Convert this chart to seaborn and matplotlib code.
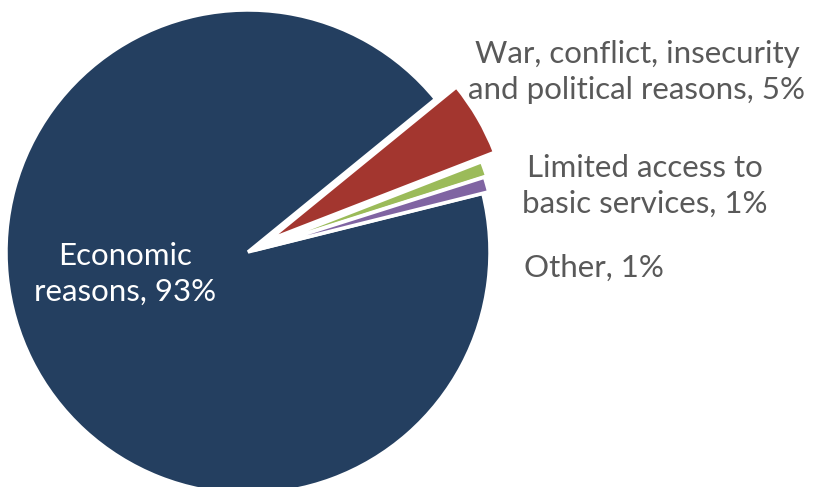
import matplotlib
matplotlib.use("Agg")
import matplotlib.pyplot as plt
import seaborn as sns

# data
categories = ["Economic reasons", "War, conflict, insecurity and political reasons",
              "Limited access to basic services", "Other"]
shares = [93, 5, 1, 1]
labels = ["Economic\nreasons, 93%", "War, conflict, insecurity\nand political reasons, 5%",
          "Limited access to\nbasic services, 1%", "Other, 1%"]
colors = ["#243F60", "#A3362F", "#9BBB59", "#8064A2"]
explode = [0.0, 0.10, 0.035, 0.025]

sns.set_theme(style="white")
plt.rcParams['font.family'] = ['Lato', 'DejaVu Sans']

W, H = 817, 487
fig = plt.figure(figsize=(W / 100, H / 100), dpi=100)
ax = fig.add_axes([0, 0, 1, 1])

# pie centre / radius in pixels
cx, cy, r = 248, 252, 242


def px(x, y):
    return (x - cx) / r, (cy - y) / r


ax.pie(shares, colors=colors, explode=explode, startangle=14, counterclock=False,
       radius=1.0, wedgeprops=dict(edgecolor="white", linewidth=2.5))

ax.set_xlim(-cx / r, (W - cx) / r)
ax.set_ylim(-(H - cy) / r, cy / r)
ax.set_aspect("auto")
ax.axis("off")

grey = "#595959"
fs = 22.5
ax.text(*px(125, 274), labels[0], color="white", fontsize=fs, ha="center", va="center",
        linespacing=1.35)
ax.text(*px(637, 72), labels[1], color=grey, fontsize=fs, ha="center", va="center",
        linespacing=1.35)
ax.text(*px(645, 186), labels[2], color=grey, fontsize=fs, ha="center", va="center",
        linespacing=1.35)
ax.text(*px(524, 268), labels[3], color=grey, fontsize=fs, ha="left", va="center")

fig.savefig("out.png", dpi=100)
